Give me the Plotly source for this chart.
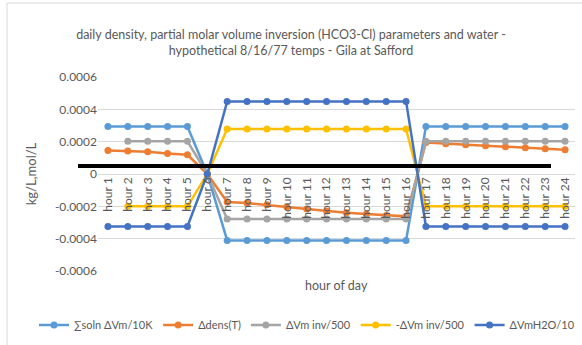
import plotly.graph_objects as go

# hours on the category axis
hours = [f"hour {i}" for i in range(1, 25)]

# series values (kg/L, mol/L)
soln_dvm_10k = [0.000294] * 5 + [0.0] + [-0.000411] * 10 + [0.000294] * 8
ddens_t = [0.000146, 0.000142, 0.000137, 0.000127, 0.000119, 0.0,
           -0.000173, -0.000180, -0.000190, -0.000204, -0.000216, -0.000229,
           -0.000240, -0.000248, -0.000256, -0.000262,
           0.000195, 0.000187, 0.000181, 0.000175, 0.000169, 0.000163, 0.000156, 0.000150]
dvm_inv_500 = [None] + [0.000202] * 4 + [0.0] + [-0.000278] * 10 + [0.000202] * 8
neg_dvm_inv_500 = [None] + [-0.0002] * 4 + [0.0] + [0.000278] * 10 + [-0.0002] * 8
dvm_h2o_10 = [-0.000324] * 5 + [0.0] + [0.000449] * 10 + [-0.000324] * 8

series_names = ["∑soln ΔVm/10K", "Δdens(T)", "ΔVm inv/500", "-ΔVm inv/500", "ΔVmH2O/10"]
series_values = [soln_dvm_10k, ddens_t, dvm_inv_500, neg_dvm_inv_500, dvm_h2o_10]
series_colors = ["#5B9BD5", "#ED7D31", "#A5A5A5", "#FFC000", "#4472C4"]

y_ticks = [0.0006, 0.0004, 0.0002, 0, -0.0002, -0.0004, -0.0006]
y_ticktext = ["0.0006", "0.0004", "0.0002", "0", "-0.0002", "-0.0004", "-0.0006"]

FONT = "Lato"
GREY = "#595959"

fig = go.Figure()
for name, vals, col in zip(series_names, series_values, series_colors):
    fig.add_trace(go.Scatter(
        x=hours, y=vals, name=name, mode="lines+markers",
        line=dict(color=col, width=2.5),
        marker=dict(color=col, size=7),
    ))

fig.update_layout(
    width=582, height=345,
    margin=dict(l=98, r=7, t=77, b=74, autoexpand=False),
    paper_bgcolor="white", plot_bgcolor="white",
    font=dict(family=FONT, color=GREY, size=12),
    title=dict(
        text="daily density, partial molar volume inversion (HCO3-Cl) parameters and water -<br>"
             "hypothetical 8/16/77 temps - Gila at Safford",
        x=0.5, xref="container", xanchor="center",
        y=1 - 39 / 345, yref="container", yanchor="middle",
        font=dict(size=12.5, color=GREY, family=FONT),
    ),
    showlegend=True,
    legend=dict(
        orientation="h", x=(34 - 98) / 477, xanchor="left",
        y=(271 - 325) / 194, yanchor="middle",
        font=dict(size=11, color=GREY, family=FONT),
        itemwidth=30, tracegroupgap=0,
    ),
)

fig.update_xaxes(
    type="category", range=[-0.5, 23.5],
    anchor="free", position=0.5,
    tickangle=-90, ticks="", showgrid=False,
    showline=False, zeroline=False, automargin=False,
    tickfont=dict(size=12, color=GREY, family=FONT),
)
fig.update_yaxes(
    range=[-0.0006, 0.0006],
    tickvals=y_ticks, ticktext=y_ticktext,
    gridcolor="#D9D9D9", gridwidth=1,
    zeroline=True, zerolinecolor="#D9D9D9", zerolinewidth=1,
    showline=False, ticks="", automargin=False,
    tickfont=dict(size=12, color=GREY, family=FONT),
    title=dict(text="kg/L,mol/L", font=dict(size=13, color=GREY, family=FONT)),
)

# x-axis title sits below the plot area
fig.add_annotation(
    text="hour of day", xref="paper", yref="paper",
    x=0.5, y=(271 - 285) / 194, xanchor="center", yanchor="middle",
    showarrow=False, font=dict(size=12.5, color=GREY, family=FONT),
)

# thick black line drawn over the chart
fig.add_shape(
    type="line", xref="paper", yref="y",
    x0=(78 - 98) / 477, x1=(551 - 98) / 477, y0=0.00005, y1=0.00005,
    line=dict(color="black", width=4),
)

# chart border
fig.add_shape(
    type="rect", xref="paper", yref="paper",
    x0=(7 - 98) / 477, x1=(590 - 98) / 477,
    y0=(271 - 352) / 194, y1=(271 - 3) / 194,
    line=dict(color="#D9D9D9", width=1),
)

# drop the browser's default page margin so the figure sits at the top-left corner
fig.write_html("out.html", config={"displayModeBar": False},
               post_script="document.body.style.margin='0';")
